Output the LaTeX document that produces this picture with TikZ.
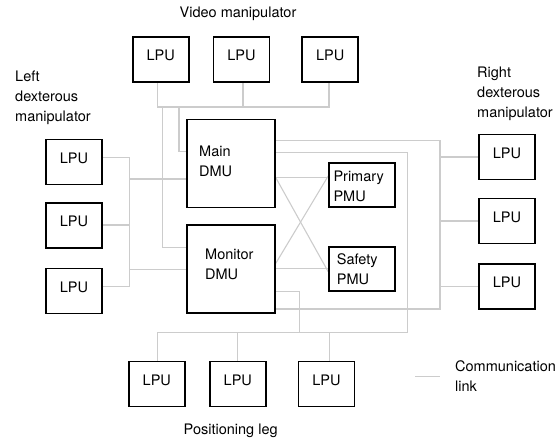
\documentclass[tikz,border=0pt]{standalone}
\usepackage{fontspec}
\setmainfont{TeX Gyre Heros}
\definecolor{linkgray}{HTML}{CCCCCC}
\pgfdeclarelayer{bg}
\pgfsetlayers{bg,main}
\begin{document}
\begin{tikzpicture}[x=1pt,y=-1pt,
  every node/.style={font=\fontsize{14.5}{20}\selectfont},
  unit/.style={draw=black,line width=1.6pt,inner sep=0pt,minimum width=56pt,minimum height=45pt,text depth=8pt},
  dmu/.style={draw=black,line width=1.6pt,inner sep=0pt,minimum width=88pt,minimum height=88pt},
  pmu/.style={draw=black,line width=1.6pt,inner sep=0pt,minimum width=66pt,minimum height=44.5pt},
  lbl/.style={inner sep=0pt,align=left,anchor=west},
  link/.style={draw=linkgray,line width=1.1pt}]
\useasboundingbox (0,0) rectangle (560,441);

% LPUs
\node[unit] (t1) at (160.7,59.5) {LPU};
\node[unit] (t2) at (241.5,59.5) {LPU};
\node[unit] (t3) at (330.2,59.5) {LPU};
\node[unit] (l1) at (74,162) {LPU};
\node[unit] (l2) at (74,225.3) {LPU};
\node[unit] (l3) at (74,291) {LPU};
\node[unit] (r1) at (507,157) {LPU};
\node[unit] (r2) at (507,221) {LPU};
\node[unit] (r3) at (507,286.7) {LPU};
\node[unit] (b1) at (156.8,384) {LPU};
\node[unit] (b2) at (237.8,384) {LPU};
\node[unit] (b3) at (326.5,384) {LPU};

% DMUs and PMUs
\node[dmu] (main) at (231,163.5) {};
\node[dmu] (mon) at (231,269) {};
\node[pmu] (pri) at (362,185) {};
\node[pmu] (saf) at (362,269) {};

% texts
\node[lbl] (mainT) at (199,161.3) {Main\\DMU};
\node[lbl] (monT) at (205,264) {Monitor\\DMU};
\node[lbl] (priT) at (333.3,186.8) {Primary\\PMU};
\node[lbl] (safT) at (336.7,269.5) {Safety\\PMU};
\node[lbl] (leftT) at (15,98.2) {Left\\dexterous\\manipulator};
\node[lbl] (rightT) at (477,93.5) {Right\\dexterous\\manipulator};
\node[inner sep=0pt] (vidT) at (238,14.2) {Video manipulator};
\node[inner sep=0pt] (posT) at (230.7,430.8) {Positioning leg};
\node[lbl] (comT) at (455,376) {Communication\\link};

% levels
\coordinate (yTop) at (0,107);
\coordinate (xT1) at (157.7,0);
\coordinate (xT2) at (243,0);
\coordinate (xT3) at (329,0);
\coordinate (xA) at (162.5,0);
\coordinate (xB) at (179,0);
\coordinate (yMonA) at (0,247.7);
\coordinate (yMainA) at (0,151.7);
\coordinate (xL) at (129.3,0);
\coordinate (yL1) at (0,157.7);
\coordinate (yL2) at (0,225);
\coordinate (yL3) at (0,286.7);
\coordinate (yLmain) at (0,179);
\coordinate (yLmon) at (0,269.3);
\coordinate (yR1) at (0,140.7);
\coordinate (yM2) at (0,152.3);
\coordinate (yP) at (0,177.7);
\coordinate (yS) at (0,271.7);
\coordinate (yD2) at (0,263.3);
\coordinate (yP2) at (0,176);
\coordinate (yS2) at (0,268.3);
\coordinate (yN) at (0,291.7);
\coordinate (yR2) at (0,309);
\coordinate (xM) at (407.3,0);
\coordinate (xR) at (440,0);
\coordinate (xN) at (299.3,0);
\coordinate (yBot) at (0,332.3);
\coordinate (xB1) at (157.3,0);
\coordinate (xB2) at (237.7,0);
\coordinate (xB3) at (329.3,0);
\coordinate (lg1) at (415,376.7);
\coordinate (lg2) at (440,376.7);

\begin{pgfonlayer}{bg}
% video manipulator bus
\draw[link] (t1.south -| xT1) -- (xT1 |- yTop) -- (xT3 |- yTop) -- (t3.south -| xT3);
\draw[link] (t2.south -| xT2) -- (xT2 |- yTop);
\draw[link] (xA |- yTop) |- (mon.west |- yMonA);
\draw[link] (xB |- yTop) |- (main.west |- yMainA);
% left bus
\draw[link] (l1.east |- yL1) -| (xL |- yL3) -- (l3.east |- yL3);
\draw[link] (l2.east |- yL2) -- (xL |- yL2);
\draw[link] (xL |- yLmain) -- (main.west |- yLmain);
\draw[link] (xL |- yLmon) -- (mon.west |- yLmon);
% DMU - PMU
\draw[link] (main.east |- yP) -- (pri.west |- yP);
\draw[link] (main.east |- yP) -- (saf.west |- yS);
\draw[link] (mon.east |- yD2) -- (pri.west |- yP2);
\draw[link] (mon.east |- yS2) -- (saf.west |- yS2);
% right bus
\draw[link] (main.east |- yR1) -| (xR |- yR2) -- (mon.east |- yR2);
\draw[link] (r1.west) -- (r1.west -| xR);
\draw[link] (r2.west) -- (r2.west -| xR);
\draw[link] (r3.west) -- (r3.west -| xR);
% positioning leg bus
\draw[link] (main.east |- yM2) -| (xM |- yBot) -- (xB1 |- yBot) -- (b1.north -| xB1);
\draw[link] (b2.north -| xB2) -- (xB2 |- yBot);
\draw[link] (b3.north -| xB3) -- (xB3 |- yBot);
\draw[link] (mon.east |- yN) -| (xN |- yBot);
% legend
\draw[link] (lg1) -- (lg2);
\end{pgfonlayer}
\end{tikzpicture}
\end{document}
